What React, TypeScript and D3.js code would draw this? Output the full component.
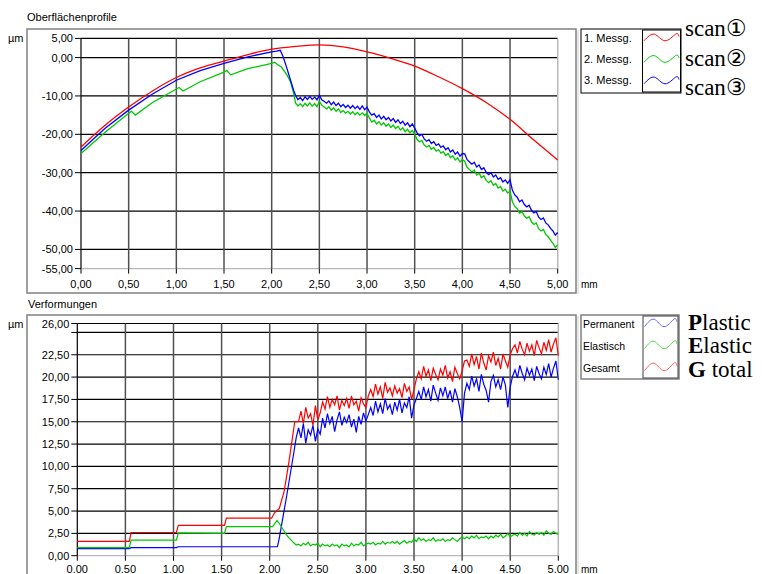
import React from "react";
import * as d3 from "d3";

const FONT = "'Liberation Sans', Arial, sans-serif";
const SERIF = "'Liberation Serif', 'Times New Roman', serif";
const STEP = 0.025;

// ---- Oberflächenprofile (top) ----
const xTicks = [0, 0.5, 1, 1.5, 2, 2.5, 3, 3.5, 4, 4.5, 5];
const profTicksY = [5, 0, -10, -20, -30, -40, -50, -55];
const profLegend = ["1. Messg.", "2. Messg.", "3. Messg."];
const profNotes = ["scan\u2460", "scan\u2461", "scan\u2462"];

const scan1X = [0, 0.25, 0.5, 0.75, 1, 1.25, 1.5, 1.75, 2, 2.25, 2.5, 2.75, 3, 3.25, 3.5, 3.75, 4, 4.25, 4.5, 4.75, 5];
const scan1 = [-23.3, -17.7, -12.9, -8.7, -5.2, -2.7, -0.9, 0.8, 2.2, 2.9, 3.3, 2.8, 1.5, -0.2, -2.2, -5.0, -8.1, -11.7, -16.1, -21.5, -26.7];

const scan2Head: [number, number][] = [
  [0, -25.0], [0.25, -19.5], [0.5, -14.5], [0.53, -14.0], [0.57, -15.0], [0.75, -11.7],
  [1.0, -8.2], [1.03, -7.8], [1.07, -8.7], [1.25, -6.3], [1.5, -3.8], [1.53, -3.4],
  [1.57, -4.5], [1.75, -2.9], [2.0, -1.5], [2.03, -1.2], [2.07, -2.0], [2.1, -2.4],
  [2.16, -4.5], [2.2, -6.5], [2.235, -9.8],
];
const scan2Tail = [
  -11.8, -12.6, -12.0, -12.8, -11.9, -12.6, -11.8, -12.7, -12.0, -12.8,
  -11.4, -12.4, -12.9, -13.4, -12.8, -13.7, -13.1, -14.0, -13.4, -14.3,
  -13.8, -14.5, -14.0, -14.7, -14.1, -14.9, -14.3, -15.0, -14.4, -15.1,
  -14.5, -15.8, -16.8, -16.3, -17.3, -16.7, -17.6, -17.0, -17.9, -17.3,
  -18.2, -17.6, -18.5, -17.9, -18.9, -18.3, -19.3, -18.7, -19.6, -19.0,
  -20.0, -21.3, -22.0, -21.6, -22.8, -23.3, -22.9, -23.9, -23.4, -24.4,
  -24.0, -24.9, -24.5, -25.5, -25.0, -26.1, -25.6, -26.7, -26.1, -27.2,
  -26.6, -27.0, -28.6, -29.2, -29.8, -29.3, -30.6, -30.1, -31.3, -30.8,
  -32.0, -32.6, -32.1, -33.3, -32.8, -34.0, -33.6, -34.8, -34.3, -35.3,
  -34.8, -37.6, -38.8, -39.4, -40.6, -40.1, -41.3, -41.9, -41.5, -42.8,
  -43.5, -43.1, -44.6, -45.2, -44.8, -46.1, -46.7, -47.6, -48.4, -49.5,
  -48.8,
];

const scan3Head: [number, number][] = [
  [0, -24.2], [0.25, -18.5], [0.5, -13.7], [0.75, -9.5], [1.0, -5.9], [1.25, -3.4],
  [1.5, -1.5], [1.75, 0.2], [2.0, 1.5], [2.05, 1.7], [2.09, 1.9], [2.12, 0.2],
  [2.16, -2.8], [2.23, -8.5],
];
const scan3Tail = [
  -9.8, -11.0, -10.4, -11.2, -10.2, -10.9, -10.1, -10.9, -10.3, -11.0,
  -9.8, -11.0, -11.4, -11.9, -11.3, -12.3, -11.6, -12.5, -11.9, -12.8,
  -12.2, -13.0, -12.4, -13.2, -12.5, -13.3, -12.7, -13.5, -12.6, -13.6,
  -12.9, -14.2, -15.0, -14.6, -15.6, -15.0, -16.0, -15.3, -16.2, -15.6,
  -16.5, -15.9, -16.9, -16.2, -17.2, -16.6, -17.6, -17.0, -18.0, -17.3,
  -18.4, -19.6, -20.4, -20.0, -21.2, -21.8, -21.4, -22.4, -21.9, -22.9,
  -22.5, -23.4, -23.0, -24.0, -23.5, -24.6, -24.1, -25.2, -24.6, -25.7,
  -25.0, -25.1, -26.6, -27.2, -27.8, -27.3, -28.5, -28.0, -29.2, -28.7,
  -29.9, -30.5, -30.0, -31.1, -30.6, -31.7, -31.3, -32.4, -31.9, -32.8,
  -31.8, -34.6, -35.8, -36.4, -37.6, -37.1, -38.3, -38.9, -38.5, -39.8,
  -40.5, -40.1, -41.6, -42.2, -41.8, -43.1, -43.6, -44.5, -45.2, -46.3,
  -45.6,
];
const profTailStart = 2.25;

// ---- Verformungen (bottom) ----
const defTicksY = [0, 2.5, 5, 7.5, 10, 12.5, 15, 17.5, 20, 22.5, 25, 26];
const defLabelSkip = [25];
const defLegend = ["Permanent", "Elastisch", "Gesamt"];
const defNotes = [["P", "lastic"], ["E", "lastic"], ["G", " total"]];

const permHead: [number, number][] = [
  [0, 0.8], [0.54, 0.8], [0.56, 0.9], [1.03, 0.9], [1.05, 1.0], [2.08, 1.0],
  [2.1, 2.0], [2.175, 6.6], [2.25, 11.5], [2.275, 13.2],
];
const permTail = [
  14.3, 13.2, 14.8, 12.6, 14.1, 13.5, 14.6, 12.8, 14.2, 13.6,
  15.4, 14.3, 15.9, 14.8, 15.6, 13.9, 15.2, 16.1, 14.6, 15.5,
  14.9, 15.8, 14.4, 15.3, 13.8, 15.6, 14.7, 16.0, 15.1, 15.8,
  16.6, 15.7, 17.3, 16.1, 17.0, 15.9, 17.6, 16.4, 16.9, 15.8,
  17.2, 16.3, 17.5, 16.0, 17.1, 16.6, 17.8, 15.4, 16.9, 17.6,
  18.4, 17.5, 18.9, 17.8, 18.6, 17.3, 19.1, 18.2, 17.4, 18.8,
  17.9, 18.9, 17.6, 18.5, 17.2, 18.7, 17.8, 16.6, 15.0, 18.2,
  19.3, 18.6, 20.1, 19.0, 19.8, 18.4, 20.3, 19.2, 18.5, 17.2,
  19.5, 20.2, 18.9, 19.7, 18.6, 20.0, 19.1, 16.6, 18.9, 20.1,
  20.8, 19.9, 21.3, 20.4, 19.7, 21.0, 20.2, 20.9, 19.6, 21.2,
  20.4, 19.8, 21.1, 20.3, 21.5, 20.0, 21.0, 21.8, 19.7,
];

const elastHead: [number, number][] = [
  [0, 0.9], [0.54, 0.9], [0.56, 1.75], [1.03, 1.75], [1.05, 2.55], [1.53, 2.5],
  [1.55, 3.25], [2.03, 3.25], [2.075, 3.95], [2.1, 3.6], [2.175, 2.3], [2.24, 1.55],
  [2.275, 1.2],
];
const elastTail = [
  1.3, 1.1, 1.4, 1.2, 1.5, 1.1, 1.3, 1.2, 1.4, 1.0,
  1.3, 1.1, 1.2, 1.0, 1.3, 1.1, 1.2, 0.9, 1.3, 1.1,
  1.2, 1.0, 1.4, 1.1, 1.3, 1.2, 1.5, 1.1, 1.3, 1.4,
  1.3, 1.5, 1.2, 1.4, 1.3, 1.6, 1.3, 1.5, 1.4, 1.6,
  1.4, 1.6, 1.3, 1.5, 1.7, 1.4, 1.6, 1.5, 1.9, 1.6,
  2.0, 1.7, 1.9, 1.6, 1.8, 1.7, 2.0, 1.6, 1.8, 1.7,
  1.9, 1.6, 1.8, 1.7, 2.0, 1.8, 1.6, 1.9, 2.1, 1.9,
  2.1, 1.9, 2.2, 2.0, 2.3, 1.9, 2.1, 2.0, 2.2, 1.9,
  2.2, 2.0, 2.3, 2.1, 2.4, 2.0, 2.2, 2.5, 2.1, 2.3,
  2.4, 2.2, 2.6, 2.3, 2.5, 2.2, 2.7, 2.4, 2.3, 2.6,
  2.4, 2.6, 2.3, 2.8, 2.5, 2.4, 2.7, 2.5, 2.4,
];

const totalHead: [number, number][] = [
  [0, 1.6], [0.54, 1.6], [0.56, 2.6], [1.03, 2.6], [1.05, 3.4], [1.53, 3.4],
  [1.55, 4.2], [2.02, 4.2], [2.05, 4.8], [2.1, 5.3], [2.15, 7.2], [2.2, 10.5],
  [2.26, 15.0],
];
const totalTail = [
  15.0, 16.2, 14.8, 16.6, 15.4, 15.9, 14.6, 16.8, 15.2, 16.0,
  17.2, 16.4, 17.8, 16.6, 17.5, 16.9, 17.9, 16.3, 17.4, 16.8,
  17.6, 16.5, 17.9, 16.9, 17.3, 16.2, 17.7, 17.0, 16.6, 17.9,
  18.6, 17.8, 19.2, 18.1, 18.9, 17.6, 19.4, 18.3, 18.8, 17.9,
  19.0, 18.2, 18.7, 17.7, 19.3, 18.4, 18.9, 17.5, 18.6, 19.8,
  20.6, 19.8, 21.2, 20.1, 20.8, 19.6, 21.0, 20.3, 19.7, 20.9,
  20.2, 21.3, 19.9, 20.6, 19.5, 21.1, 20.4, 19.8, 20.7, 21.8,
  21.9, 21.2, 22.6, 21.4, 22.3, 20.9, 22.7, 21.6, 20.8, 22.4,
  21.7, 22.8, 21.3, 22.1, 20.9, 22.6, 21.8, 21.1, 22.5, 23.2,
  23.6, 22.7, 24.0, 23.1, 22.5, 23.8, 22.9, 23.6, 22.4, 24.1,
  23.3, 22.6, 23.9, 23.0, 24.2, 22.8, 23.7, 24.4, 22.4,
];
const defTailStart = 2.3;

// legend swatch shape (fraction of width, -1..1)
const wave: [number, number][] = [[0, 1], [0.3, -1], [0.6, 1], [0.9, -1], [1, -0.3]];

const join = (head: [number, number][], tail: number[], x0: number) =>
  head.concat(tail.map((v, i) => [x0 + i * STEP, v] as [number, number]));

const comma = (v: number) => d3.format(".2f")(v).replace(".", ",").replace("\u2212", "-");
const dot = (v: number) => d3.format(".2f")(v);

export default function App() {
  // top scales
  const px = d3.scaleLinear().domain([0, 5]).range([81, 557.7]);
  const py = d3.scaleLinear().domain([-55, 5]).range([268.6, 38.4]);
  // bottom scales
  const dx = d3.scaleLinear().domain([0, 5]).range([77.3, 558.3]);
  const dy = d3.scaleLinear().domain([0, 26]).range([555.7, 323.5]);

  const pLine = d3.line<[number, number]>().x((d) => px(d[0])).y((d) => py(d[1]));
  const pSmooth = d3.line<[number, number]>().x((d) => px(d[0])).y((d) => py(d[1])).curve(d3.curveMonotoneX);
  const dLine = d3.line<[number, number]>().x((d) => dx(d[0])).y((d) => dy(d[1]));

  const s1 = scan1X.map((x, i) => [x, scan1[i]] as [number, number]);
  const s2 = join(scan2Head, scan2Tail, profTailStart);
  const s3 = join(scan3Head, scan3Tail, profTailStart);
  const perm = join(permHead, permTail, defTailStart);
  const elast = join(elastHead, elastTail, defTailStart);
  const total = join(totalHead, totalTail, defTailStart);

  const swatch = (x0: number, x1: number, cy: number, amp: number) =>
    d3
      .line<[number, number]>()
      .x((d) => x0 + d[0] * (x1 - x0))
      .y((d) => cy + d[1] * amp)
      .curve(d3.curveNatural)(wave) || "";

  const profColors = ["#ff0000", "#00c800", "#0000ff"];
  const defColors = ["#0000ff", "#00c800", "#ff0000"];
  const defSwatch = ["#6464ff", "#50dc50", "#ff5a5a"];

  return (
    <svg
      width={762}
      height={574}
      style={{ position: "absolute", left: 0, top: 0, display: "block" }}
      fontFamily={FONT}
    >
      <rect width={762} height={574} fill="#fff" />

      {/* ===== top panel ===== */}
      <text x={27} y={21} fontSize={11}>Oberflächenprofile</text>
      <rect x={27} y={29} width={549} height={264} fill="#fff" stroke="#808080" strokeWidth={1.5} />
      <line x1={578} y1={30} x2={578} y2={294} stroke="#d0d0d0" />
      <text x={8} y={42} fontSize={11}>µm</text>
      {profTicksY.map((t) => (
        <g key={"py" + t}>
          <line x1={px(0)} x2={px(5)} y1={py(t)} y2={py(t)} stroke={t === -55 ? "#b8b8b8" : "#000"} strokeWidth={1.2} />
          <line x1={px(0) - 6} x2={px(0)} y1={py(t)} y2={py(t)} stroke="#000" />
          <text x={px(0) - 8} y={py(t) + 4} fontSize={11} textAnchor="end">{comma(t)}</text>
        </g>
      ))}
      {xTicks.map((t) => (
        <g key={"px" + t}>
          <line x1={px(t)} x2={px(t)} y1={py(5)} y2={py(-55)}
            stroke={t === 0 ? "#000" : t === 5 ? "#b8b8b8" : "#505050"} strokeWidth={t === 0 ? 1.2 : 1.5} />
          <line x1={px(t)} x2={px(t)} y1={py(-55)} y2={py(-55) + 5} stroke="#000" />
          <text x={px(t)} y={288} fontSize={11} textAnchor="middle">{comma(t)}</text>
        </g>
      ))}
      <text x={581} y={288} fontSize={10}>mm</text>
      <path d={pSmooth(s1) || ""} fill="none" stroke={profColors[0]} strokeWidth={1.3} />
      <path d={pLine(s2) || ""} fill="none" stroke={profColors[1]} strokeWidth={1.3} />
      <path d={pLine(s3) || ""} fill="none" stroke={profColors[2]} strokeWidth={1.3} />

      {/* top legend */}
      <rect x={581} y={29} width={100} height={64} fill="#fff" stroke="#000" />
      <rect x={642.5} y={30} width={38} height={62} fill="#fff" stroke="#000" />
      {profLegend.map((name, i) => (
        <g key={name}>
          <text x={584} y={42 + i * 21} fontSize={11}>{name}</text>
          <path d={swatch(644, 679, 37.5 + i * 21.5, 3.3)} fill="none" stroke={profColors[i]} strokeWidth={1} />
        </g>
      ))}
      {profNotes.map((n, i) => (
        <text key={n} x={685} y={36 + i * 29.5} fontSize={23} fontFamily={SERIF}>{n}</text>
      ))}

      {/* ===== bottom panel ===== */}
      <text x={28} y={308} fontSize={11}>Verformungen</text>
      <rect x={27} y={315} width={549} height={270} fill="#fff" stroke="#808080" strokeWidth={1.5} />
      <line x1={578} y1={316} x2={578} y2={574} stroke="#d0d0d0" />
      <text x={8} y={328} fontSize={11}>µm</text>
      {defTicksY.map((t) => (
        <g key={"dy" + t}>
          <line x1={dx(0)} x2={dx(5)} y1={dy(t)} y2={dy(t)} stroke={t === 0 ? "#b8b8b8" : "#000"} strokeWidth={1.2} />
          <line x1={dx(0) - 6} x2={dx(0)} y1={dy(t)} y2={dy(t)} stroke="#000" />
          {defLabelSkip.includes(t) ? null : (
            <text x={dx(0) - 8} y={dy(t) + 4} fontSize={11} textAnchor="end">{comma(t)}</text>
          )}
        </g>
      ))}
      {xTicks.map((t) => (
        <g key={"dx" + t}>
          <line x1={dx(t)} x2={dx(t)} y1={dy(26)} y2={dy(0)}
            stroke={t === 0 ? "#000" : t === 5 ? "#b8b8b8" : "#505050"} strokeWidth={t === 0 ? 1.2 : 1.5} />
          <line x1={dx(t)} x2={dx(t)} y1={dy(0)} y2={dy(0) + 5} stroke="#000" />
          <text x={dx(t)} y={572.5} fontSize={11} textAnchor="middle">{dot(t)}</text>
        </g>
      ))}
      <text x={581} y={572.5} fontSize={10}>mm</text>
      <path d={dLine(perm) || ""} fill="none" stroke={defColors[0]} strokeWidth={1.2} />
      <path d={dLine(elast) || ""} fill="none" stroke={defColors[1]} strokeWidth={1.2} />
      <path d={dLine(total) || ""} fill="none" stroke={defColors[2]} strokeWidth={1.2} />

      {/* bottom legend */}
      <rect x={581} y={315} width={98} height={64} fill="#fff" stroke="#808080" strokeWidth={1.5} />
      <rect x={643} y={316} width={35} height={62} fill="#fff" stroke="#404040" />
      {defLegend.map((name, i) => (
        <g key={name}>
          <text x={583} y={327.5 + i * 22} fontSize={10.5}>{name}</text>
          <path d={swatch(644.5, 677, 323 + i * 22, 3.7)} fill="none" stroke={defSwatch[i]} strokeWidth={1} />
        </g>
      ))}
      {defNotes.map((n, i) => (
        <text key={n[0]} x={688} y={330 + i * 23.3} fontSize={23} fontFamily={SERIF}>
          <tspan fontWeight="bold">{n[0]}</tspan>
          {n[1]}
        </text>
      ))}
    </svg>
  );
}
